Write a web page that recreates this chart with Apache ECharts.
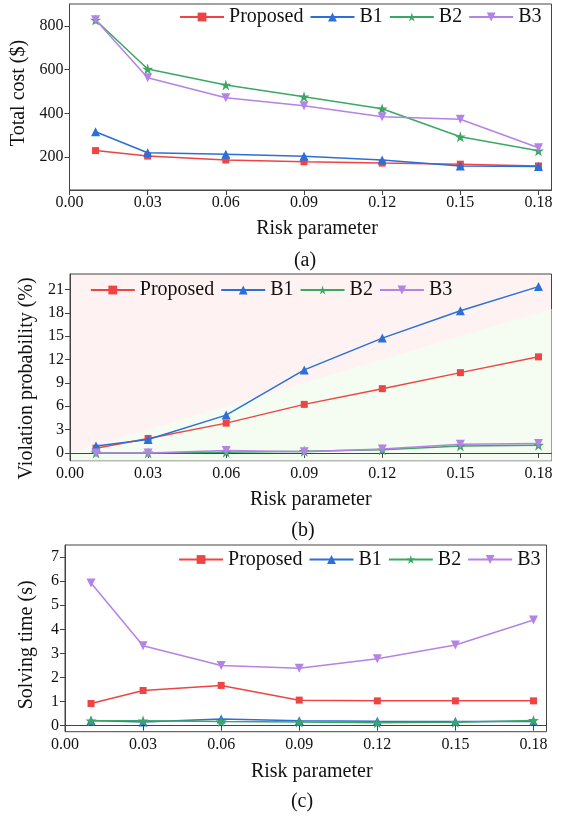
<!DOCTYPE html>
<html>
<head>
<meta charset="utf-8">
<script src="https://cdn.jsdelivr.net/npm/echarts@6/dist/echarts.min.js"></script>
<style>
  html, body { margin: 0; padding: 0; background: #fff; }
  #main { width: 563px; height: 819px; }
</style>
</head>
<body>
<div id="main"></div>
<script>
// risk parameter on x for all three panels
var riskParams = [0.01, 0.03, 0.06, 0.09, 0.12, 0.15, 0.18]
var xTicks = [0, 0.03, 0.06, 0.09, 0.12, 0.15, 0.18]

// (a) total cost ($)
var costProposed = [230, 205, 187, 179, 173, 168, 160]
var costB1 = [316, 220, 213, 204, 187, 160, 157]
var costB2 = [827, 603, 530, 476, 421, 293, 229]
var costB3 = [828, 563, 472, 435, 385, 373, 243]
var costTicks = [200, 400, 600, 800]

// (b) violation probability (%)
var violProposed = [0.6, 1.86, 3.83, 6.24, 8.26, 10.32, 12.35]
var violB1 = [0.9, 1.72, 4.86, 10.67, 14.76, 18.28, 21.38]
var violB2 = [0.0, 0.0, 0.1, 0.2, 0.4, 0.9, 1.0]
var violB3 = [0.0, 0.0, 0.3, 0.15, 0.5, 1.1, 1.2]
var violTicks = [0, 3, 6, 9, 12, 15, 18, 21]
// shaded region: violation probability below the risk parameter
var boundX = [0, 0.185]
var boundY = [0, 18.5]

// (c) solving time (s)
var timeProposed = [0.92, 1.46, 1.67, 1.06, 1.03, 1.03, 1.03]
var timeB1 = [0.22, 0.15, 0.28, 0.2, 0.18, 0.17, 0.17]
var timeB2 = [0.2, 0.2, 0.17, 0.15, 0.12, 0.14, 0.22]
var timeB3 = [5.92, 3.32, 2.5, 2.38, 2.78, 3.35, 4.39]
var timeTicks = [0, 1, 2, 3, 4, 5, 6, 7]

var names = ["Proposed", "B1", "B2", "B3"]
var colors = ["#ef4444", "#2b6fd8", "#3aa862", "#b582e6"]
var starPath = "path://M5,0 L6.18,3.62 L10,3.62 L6.91,5.86 L8.09,9.51 L5,7.27 L1.91,9.51 L3.09,5.86 L0,3.62 L3.82,3.62 Z"
var downTri = "path://M0,0 L10,0 L5,9 Z"
var symbols = ["rect", "triangle", starPath, downTri]
var symbolSizes = [7, 9, 11, 9]
var font = "Liberation Serif"

function pairs(xs, ys) {
	return xs.map(function(x, i) { return [x, ys[i]] })
}

function makeX(idx, gap, namePad) {
	return {
		type: "value",
		gridIndex: idx,
		min: 0,
		max: 0.185,
		z: 5,
		name: "Risk parameter",
		nameLocation: "middle",
		nameGap: gap,
		nameTextStyle: { fontFamily: font, fontSize: 20, color: "#111", padding: namePad },
		axisLine: { lineStyle: { color: "#444" } },
		axisTick: { customValues: xTicks, length: 5, lineStyle: { color: "#444" } },
		axisLabel: {
			customValues: xTicks,
			fontFamily: font, fontSize: 16, color: "#111", margin: 5,
			formatter: function(v) { return v.toFixed(2) }
		},
		splitLine: { show: false }
	}
}

function makeY(idx, name, min, max, ticks, gap, namePad) {
	return {
		type: "value",
		gridIndex: idx,
		min: min,
		max: max,
		z: 5,
		name: name,
		nameLocation: "middle",
		nameGap: gap,
		nameTextStyle: { fontFamily: font, fontSize: 20, color: "#111", padding: namePad },
		axisLine: { show: true, lineStyle: { color: "#444" } },
		axisTick: { show: true, customValues: ticks, length: 5, lineStyle: { color: "#444" } },
		axisLabel: { customValues: ticks, fontFamily: font, fontSize: 16, color: "#111", margin: 6 },
		splitLine: { show: false }
	}
}

function makeSeries(idx, dataSets) {
	return dataSets.map(function(vals, i) {
		return {
			name: names[i],
			type: "line",
			xAxisIndex: idx,
			yAxisIndex: idx,
			data: pairs(riskParams, vals),
			symbol: symbols[i],
			symbolSize: symbolSizes[i],
			z: 3 + i,
			lineStyle: { width: 1.5, color: colors[i] },
			itemStyle: { color: colors[i] }
		}
	})
}

function makeLegend(pos) {
	var lg = {
		data: names,
		orient: "horizontal",
		padding: 0,
		itemWidth: 44,
		itemHeight: 11,
		itemGap: 6,
		textStyle: { fontFamily: font, fontSize: 20, color: "#111" }
	}
	for (var k in pos) lg[k] = pos[k]
	return lg
}

var series = []
	.concat(makeSeries(0, [costProposed, costB1, costB2, costB3]))
	.concat([{
		name: "feasible",
		type: "line",
		xAxisIndex: 1,
		yAxisIndex: 1,
		data: pairs(boundX, boundY),
		symbol: "none",
		silent: true,
		z: 1,
		lineStyle: { width: 0 },
		areaStyle: { color: "#f5fdf2", opacity: 1, origin: "start" }
	}])
	.concat(makeSeries(1, [violProposed, violB1, violB2, violB3]))
	.concat(makeSeries(2, [timeProposed, timeB1, timeB2, timeB3]))

var option = {
	animation: false,
	backgroundColor: "#fff",
	grid: [
		{ left: 69.5, top: 4, width: 482, height: 186, show: true, borderColor: "#444", borderWidth: 1 },
		{ left: 70, top: 274, width: 481.5, height: 186.7, show: true, borderColor: "#444", borderWidth: 1, backgroundColor: "#fff2f2" },
		{ left: 65, top: 545, width: 481.5, height: 186.7, show: true, borderColor: "#444", borderWidth: 1 }
	],
	xAxis: [makeX(0, 29, [0, 0, 0, 13]), makeX(1, 29, [0, 0, 0, 0]), makeX(2, 30, [0, 0, 0, 12])],
	yAxis: [
		makeY(0, "Total cost ($)", 50, 900, costTicks, 32, [0, 0, 0, 8]),
		makeY(1, "Violation probability (%)", -1, 23, violTicks, 24, [0, 22, 0, 0]),
		makeY(2, "Solving time (s)", -0.25, 7.5, timeTicks, 28, [0, 13, 0, 0])
	],
	legend: [
		makeLegend({ right: 21.5, top: 7 }),
		makeLegend({ left: 89.8, top: 280 }),
		makeLegend({ right: 22.5, top: 549.5 })
	],
	graphic: [
		{ type: "text", x: 305, y: 261, style: { text: "(a)", fontFamily: font, fontSize: 20, fill: "#111", textAlign: "center", textVerticalAlign: "middle" } },
		{ type: "text", x: 303, y: 531, style: { text: "(b)", fontFamily: font, fontSize: 20, fill: "#111", textAlign: "center", textVerticalAlign: "middle" } },
		{ type: "text", x: 302, y: 802, style: { text: "(c)", fontFamily: font, fontSize: 20, fill: "#111", textAlign: "center", textVerticalAlign: "middle" } }
	],
	series: series
}

var myChart = echarts.init(document.getElementById("main"))
myChart.setOption(option)
</script>
</body>
</html>
